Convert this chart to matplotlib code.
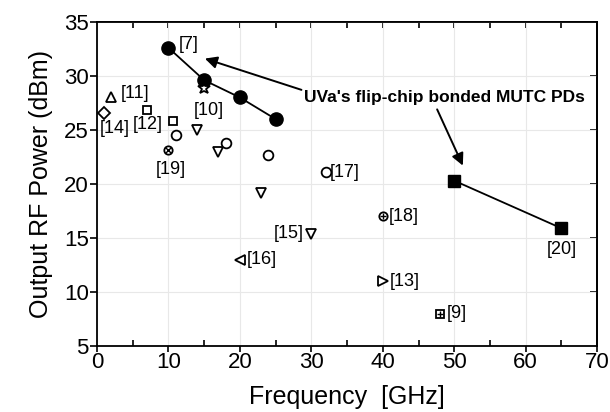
import matplotlib
matplotlib.use("Agg")
import matplotlib.pyplot as plt

plt.rcParams['font.family'] = ['Liberation Sans', 'DejaVu Sans']

# UVa flip-chip bonded MUTC PDs
uva_freq = [10, 15, 20, 25]
uva_pow = [32.6, 29.6, 28.0, 26.0]
uva2_freq = [50, 65]
uva2_pow = [20.3, 15.9]

# other reported photodiodes: (freq, power, marker, label)
ref_freq = [15, 2, 1, 7, 10.6, 11, 10, 14, 17, 18, 24, 23, 32, 40, 30, 20, 40, 48]
ref_pow = [28.9, 28.0, 26.6, 26.8, 25.8, 24.5, 23.1, 25.0, 23.0, 23.8, 22.7, 19.2,
           21.1, 17.0, 15.4, 13.0, 11.0, 8.0]
ref_mark = ['*', '^', 'D', 's', 's', 'o', 'ox', 'v', 'v', 'o', 'o', 'v',
            'o', 'o+', 'v', '<', '>', 's+']
ref_label = ['[10]', '[11]', '[14]', '[12]', '', '', '[19]', '', '', '', '', '',
             '[17]', '[18]', '[15]', '[16]', '[13]', '[9]']

fig = plt.figure(figsize=(6.1, 4.12), dpi=100)
ax = fig.add_axes([0.159, 0.160, 0.820, 0.787])

ax.plot(uva_freq, uva_pow, '-o', color='black', lw=1.3, ms=9.5, zorder=4)
ax.plot(uva2_freq, uva2_pow, '-s', color='black', lw=1.3, ms=8, zorder=4)

sizes = {'*': 9.5, '^': 7, 'D': 6, 's': 6, 'o': 7, 'v': 7, '<': 7, '>': 7}
for f, p, m in zip(ref_freq, ref_pow, ref_mark):
    base = m[0]
    ax.plot(f, p, marker=base, ms=sizes[base] if len(m) == 1 else 6,
            mfc='white', mec='black', mew=1.3, ls='none', zorder=5)
    if len(m) > 1:
        ax.plot(f, p, marker=m[1], ms=5, mec='black', mew=1.0, ls='none', zorder=6)

fs = 13
lab_off = {'[10]': (-1.5, -2.1), '[11]': (1.3, 0.4), '[14]': (-0.6, -1.5),
           '[12]': (-2.0, -1.3), '[19]': (-1.8, -1.8), '[17]': (0.6, 0.0),
           '[18]': (0.8, 0.0), '[15]': (-5.3, 0.0), '[16]': (0.9, 0.0),
           '[13]': (1.0, 0.0), '[9]': (0.9, 0.0)}
for f, p, l in zip(ref_freq, ref_pow, ref_label):
    if l:
        dx, dy = lab_off[l]
        ax.text(f + dx, p + dy, l, fontsize=fs, va='center', ha='left')
ax.text(uva_freq[0] + 1.5, uva_pow[0] + 0.3, '[7]', fontsize=fs, va='center', ha='left')
ax.text(uva2_freq[1] - 2.1, uva2_pow[1] - 2.0, '[20]', fontsize=fs, va='center', ha='left')

txt = "UVa's flip-chip bonded MUTC PDs"
arrow = dict(arrowstyle='-|>', color='black', lw=1.4, mutation_scale=18, shrinkA=0, shrinkB=0)
ax.annotate(txt, xy=(15.1, 31.6), xytext=(29.0, 28.0), fontsize=12.5, fontweight='bold',
            va='center', ha='left', arrowprops=dict(arrow, relpos=(0, 0.95)))
ax.annotate('', xy=(51.2, 21.7), xytext=(47.6, 26.9), arrowprops=arrow)

ax.set_xlim(0, 70)
ax.set_ylim(5, 35)
ax.set_xticks(range(0, 71, 10))
ax.set_xticks(range(5, 70, 10), minor=True)
ax.set_yticks(range(5, 36, 5))
ax.grid(True, color='#e8e8e8', lw=0.8)
ax.set_axisbelow(True)
ax.tick_params(axis='x', which='major', direction='out', length=4, width=1.2, labelsize=16, pad=0)
ax.tick_params(axis='x', which='minor', direction='in', length=4, width=1.2)
ax.tick_params(axis='y', which='major', direction='out', length=5, width=1.2, labelsize=16, pad=1)

top = ax.secondary_xaxis('top')
top.set_xticks(range(5, 70, 5))
top.tick_params(direction='in', length=4, width=1.2, labelleft=False, labeltop=False)
right = ax.secondary_yaxis('right')
right.set_yticks(range(10, 35, 5))
right.tick_params(direction='in', length=5, width=1.2, labelright=False)

for s in ax.spines.values():
    s.set_linewidth(1.3)
top.spines['top'].set_linewidth(1.3)
right.spines['right'].set_linewidth(1.3)

ax.set_xlabel('Frequency  [GHz]', fontsize=18, labelpad=9)
ax.set_ylabel('Output RF Power (dBm)', fontsize=18, labelpad=8)

fig.savefig('out.png', dpi=100)
